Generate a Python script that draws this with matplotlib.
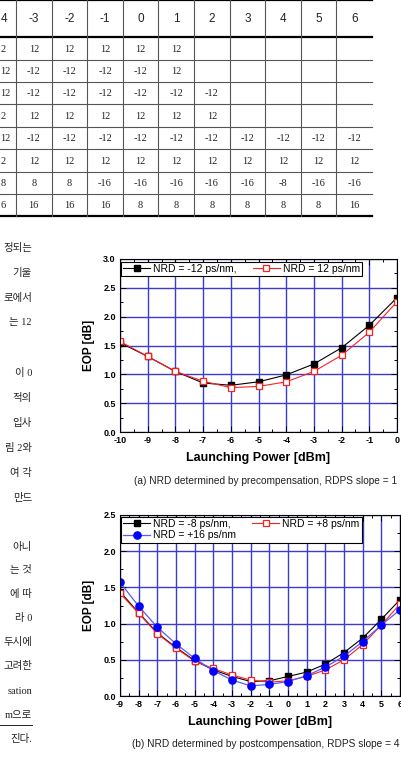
import matplotlib.pyplot as plt
from matplotlib.ticker import MultipleLocator

plt.rcParams['axes.unicode_minus'] = False

W, H = 402, 763

# --- table on top of the page ---
# column -4 is cut by the page edge, only its right part shows
cut_col = ['4', '2', '12', '12', '2', '12', '2', '8', '6']
table_cols = ['-3', '-2', '-1', '0', '1', '2', '3', '4', '5', '6']
table_rows = [
    ['12', '12', '12', '12', '12', '', '', '', '', ''],
    ['-12', '-12', '-12', '-12', '12', '', '', '', '', ''],
    ['-12', '-12', '-12', '-12', '-12', '-12', '', '', '', ''],
    ['12', '12', '12', '12', '12', '12', '', '', '', ''],
    ['-12'] * 10,
    ['12'] * 10,
    ['8', '8', '-16', '-16', '-16', '-16', '-16', '-8', '-16', '-16'],
    ['16', '16', '16', '8', '8', '8', '8', '8', '8', '16'],
]

# --- body text fragments at the right edge of the left column ---
text_lines = ['정되는', '기울', '로에서', '는 12', '', '이 0', '적의', '입사',
              '림 2와', '여 각', '만드', '', '아니', '는 것', '에 따',
              '라 0', '두시에', '고려한', 'sation', 'm으로', '진다.']

# --- (a) NRD determined by precompensation ---
power_a = [-10, -9, -8, -7, -6, -5, -4, -3, -2, -1, 0]
eop_a_m12 = [1.55, 1.31, 1.05, 0.85, 0.81, 0.87, 0.99, 1.18, 1.46, 1.85, 2.33]
eop_a_p12 = [1.57, 1.31, 1.05, 0.88, 0.77, 0.79, 0.87, 1.05, 1.33, 1.73, 2.26]
labels_a = ['NRD = -12 ps/nm,', 'NRD = 12 ps/nm']

# --- (b) NRD determined by postcompensation ---
power_b = [-9, -8, -7, -6, -5, -4, -3, -2, -1, 0, 1, 2, 3, 4, 5, 6]
eop_b_m8 = [1.44, 1.15, 0.87, 0.67, 0.49, 0.36, 0.27, 0.20, 0.21, 0.27, 0.33, 0.44, 0.60, 0.80, 1.06, 1.33]
eop_b_p8 = [1.42, 1.14, 0.86, 0.66, 0.48, 0.38, 0.29, 0.22, 0.19, 0.21, 0.27, 0.36, 0.50, 0.71, 0.98, 1.27]
eop_b_p16 = [1.57, 1.24, 0.95, 0.72, 0.52, 0.35, 0.22, 0.14, 0.16, 0.20, 0.28, 0.40, 0.55, 0.75, 0.98, 1.19]
labels_b = ['NRD = -8 ps/nm,', 'NRD = +8 ps/nm', 'NRD = +16 ps/nm']

captions = ['(a) NRD determined by precompensation, RDPS slope = 1',
            '(b) NRD determined by postcompensation, RDPS slope = 4']

GRID = '#3d3dcc'
SANS = ['Liberation Sans', 'DejaVu Sans']
KR = ['Liberation Serif', 'Noto Sans CJK KR', 'DejaVu Sans']
INK = '#222222'

fig = plt.figure(figsize=(W / 100, H / 100), dpi=100)


def px_axes(left, top, right, bottom):
    return fig.add_axes([left / W, 1 - bottom / H, (right - left) / W, (bottom - top) / H])


# page overlay in pixel coordinates
page = fig.add_axes([0, 0, 1, 1])
page.set_xlim(0, W)
page.set_ylim(H, 0)
page.axis('off')

col_w = 35.6
x0 = 16.0
row_y = [0, 37.3, 60, 82.3, 104.3, 127, 149.3, 171.7, 194, 216]
table_right = x0 + col_w * 10
for y in (row_y[0], row_y[1], row_y[-1]):
    page.plot([0, table_right], [y, y], color='k', lw=1.6)
for y in row_y[2:-1]:
    page.plot([0, table_right], [y, y], color='#555555', lw=0.8)
for i in range(10):
    xb = x0 + col_w * i
    page.plot([xb, xb], [0, row_y[-1]], color='#555555', lw=0.8)

# header row
page.text(0.5, (row_y[0] + row_y[1]) / 2, cut_col[0], ha='left', va='center',
          fontsize=8.5, family=SANS, color=INK)
for j, lab in enumerate(table_cols):
    cx = x0 + col_w * (j + 0.5)
    page.text(cx, (row_y[0] + row_y[1]) / 2, lab, ha='center', va='center',
              fontsize=8.5, family=SANS, color=INK)
# body rows
for r, row in enumerate(table_rows):
    cy = (row_y[r + 1] + row_y[r + 2]) / 2 + 0.5
    page.text(0.5, cy, cut_col[r + 1], ha='left', va='center', fontsize=7.5,
              family=['Liberation Serif'], color=INK)
    for j, val in enumerate(row):
        cx = x0 + col_w * (j + 0.5)
        page.text(cx, cy, val, ha='center', va='center', fontsize=7.5,
                  family=['Liberation Serif'], color=INK)

# left column text
line_y = [248, 273, 298, 323, 348, 373, 398, 423, 448, 473, 498,
          523, 547, 570, 594, 618, 642, 666, 691, 715, 739]
for y, t in zip(line_y, text_lines):
    if t:
        page.text(32, y, t, ha='right', va='center', fontsize=7.5, family=KR, color=INK)
page.plot([0, 32], [725, 725], color=INK, lw=0.7)


def style_axes(ax, xlim, ylim, xminor):
    ax.set_xlim(*xlim)
    ax.set_ylim(*ylim)
    ax.xaxis.set_major_locator(MultipleLocator(1))
    ax.xaxis.set_minor_locator(MultipleLocator(xminor))
    ax.yaxis.set_major_locator(MultipleLocator(0.5))
    ax.yaxis.set_minor_locator(MultipleLocator(0.25))
    ax.yaxis.set_major_formatter(plt.FormatStrFormatter('%.1f'))
    ax.grid(True, which='major', color=GRID, lw=1.0)
    ax.set_axisbelow(True)
    ax.tick_params(which='both', direction='in', top=True, right=True, width=0.7)
    ax.tick_params(which='major', length=4, labelsize=6.5, pad=3)
    ax.tick_params(which='minor', length=2)
    for lab in ax.get_xticklabels() + ax.get_yticklabels():
        lab.set_fontweight('bold')
        lab.set_family(SANS)
    for s in ax.spines.values():
        s.set_linewidth(0.8)
    ax.set_ylabel('EOP [dB]', fontsize=8.5, fontweight='bold', family=SANS, labelpad=6)
    ax.set_xlabel('Launching Power [dBm]', fontsize=9, fontweight='bold', family=SANS, labelpad=5)


def style_legend(leg):
    leg.get_frame().set_edgecolor('k')
    leg.get_frame().set_linewidth(0.8)
    leg.get_frame().set_alpha(1)


# chart (a)
ax1 = px_axes(120, 259, 397, 432)
ax1.plot(power_a, eop_a_m12, color='k', lw=0.8, marker='s', ms=4.2, mfc='k', mec='k',
         label=labels_a[0])
ax1.plot(power_a, eop_a_p12, color='#ff2020', lw=0.8, marker='s', ms=4.2, mfc='white',
         mec='#ff2020', mew=0.9, label=labels_a[1])
style_axes(ax1, (-10, 0), (0, 3.0), 0.5)
leg = ax1.legend(loc='upper left', bbox_to_anchor=(0.004, 0.985), ncol=2,
                 prop={'family': SANS, 'size': 7.5}, frameon=True, fancybox=False,
                 borderpad=0.2, handlelength=2.6, handletextpad=0.3, columnspacing=1.5,
                 borderaxespad=0)
style_legend(leg)

# chart (b)
ax2 = px_axes(120, 515, 400, 696)
l_m8, = ax2.plot(power_b, eop_b_m8, color='k', lw=0.8, marker='s', ms=4.8, mfc='k', mec='k')
l_p8, = ax2.plot(power_b, eop_b_p8, color='#ff2020', lw=0.8, marker='s', ms=4.8,
                 mfc='white', mec='#ff2020', mew=0.9)
l_p16, = ax2.plot(power_b, eop_b_p16, color='#5a5aff', lw=0.9, marker='o', ms=5.2,
                  mfc='#0000ff', mec='#0000ff')
style_axes(ax2, (-9, 6), (0, 2.5), 0.5)
leg2 = ax2.legend([l_m8, l_p16, l_p8], [labels_b[0], labels_b[2], labels_b[1]],
                  loc='upper left', bbox_to_anchor=(0.004, 0.99), ncol=2,
                  prop={'family': SANS, 'size': 7.5}, frameon=True, fancybox=False,
                  borderpad=0.2, handlelength=2.6, handletextpad=0.3, columnspacing=1.5,
                  labelspacing=0.15, borderaxespad=0)
style_legend(leg2)

# captions
for y, cap in zip((481, 744), captions):
    page.text(266, y, cap, ha='center', va='center', fontsize=7.3, family=SANS, color=INK)

fig.savefig('out.png', dpi=100)
